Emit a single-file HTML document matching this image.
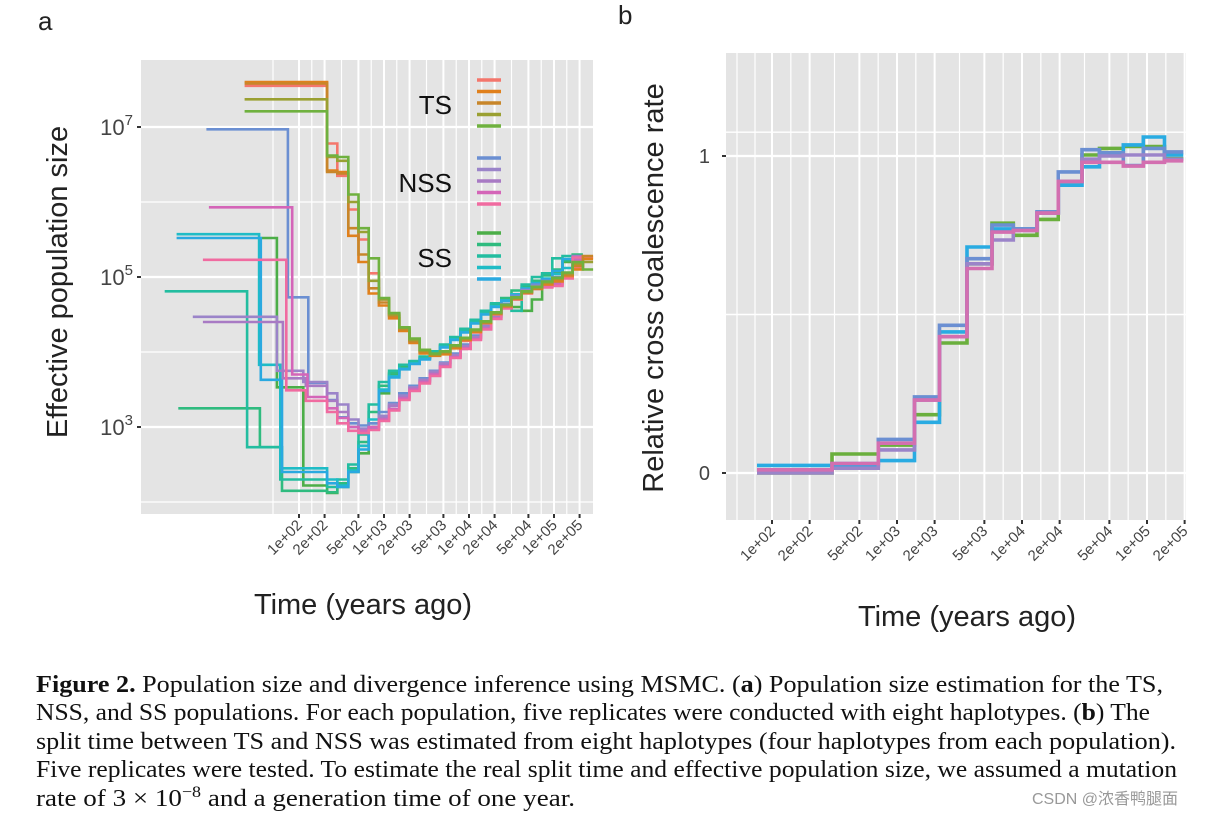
<!DOCTYPE html>
<html><head><meta charset="utf-8">
<style>
html,body{margin:0;padding:0;background:#fff;}
svg{display:block;}
.sans{font-family:"Liberation Sans",Arial,sans-serif;}
.serif{font-family:"Liberation Serif","Times New Roman",serif;}
</style></head>
<body>
<svg id="fig" width="1208" height="817" viewBox="0 0 1208 817" xmlns="http://www.w3.org/2000/svg">
  <rect x="0" y="0" width="1208" height="817" fill="#fff"/>
  <text class="sans" x="38" y="30" font-size="26" fill="#222">a</text>
  <text class="sans" x="618" y="24" font-size="26" fill="#222">b</text>
  <g id="panelA"></g>
  <g id="panelB"></g>
  <text class="sans" transform="translate(67,282) rotate(-90)" text-anchor="middle" font-size="29" fill="#222">Effective population size</text>
  <text class="sans" x="363" y="614" text-anchor="middle" font-size="29" fill="#222">Time (years ago)</text>
  <text class="sans" transform="translate(663,288) rotate(-90)" text-anchor="middle" font-size="29" fill="#222">Relative cross coalescence rate</text>
  <text class="sans" x="967" y="626" text-anchor="middle" font-size="29" fill="#222">Time (years ago)</text>
  <g class="serif" font-size="24" fill="#111">
    <text x="36" y="692" textLength="1127" lengthAdjust="spacingAndGlyphs"><tspan font-weight="bold">Figure 2.</tspan>  Population size and divergence inference using MSMC. (<tspan font-weight="bold">a</tspan>) Population size estimation for the TS,</text>
    <text x="36" y="720" textLength="1114" lengthAdjust="spacingAndGlyphs">NSS, and SS populations. For each population, five replicates were conducted with eight haplotypes. (<tspan font-weight="bold">b</tspan>) The</text>
    <text x="36" y="749" textLength="1140" lengthAdjust="spacingAndGlyphs">split time between TS and NSS was estimated from eight haplotypes (four haplotypes from each population).</text>
    <text x="36" y="777" textLength="1141" lengthAdjust="spacingAndGlyphs">Five replicates were tested. To estimate the real split time and effective population size, we assumed a mutation</text>
    <text x="36" y="806" textLength="539" lengthAdjust="spacingAndGlyphs">rate of 3 × 10<tspan dy="-9" font-size="16">−8</tspan><tspan dy="9"> and a generation time of one year.</tspan></text>
  </g>
  <text x="1032" y="804" font-size="16" fill="#999" style="font-family:'Liberation Sans','Noto Sans CJK SC',sans-serif">CSDN @浓香鸭腿面</text>
</svg>
<script>
const NS = "http://www.w3.org/2000/svg";
// ---------- Panel A data (log10 time, log10 Ne) ----------
const aTickLabels = ["1e+02","2e+02","5e+02","1e+03","2e+03","5e+03","1e+04","2e+04","5e+04","1e+05","2e+05"];
const aTickValues = [100,200,500,1000,2000,5000,10000,20000,50000,100000,200000];
const aYTicks = [3,5,7];
const lateGrid = [2.33,2.45,2.58,2.70,2.82,2.94,3.06,3.18,3.30,3.42,3.54,3.66,3.78,3.90,4.02,4.14,4.26,4.38,4.50,4.62,4.74,4.86,4.98,5.10,5.22,5.34,5.46];
const tsColors = ["#f4766c","#e0801c","#c8862a","#9aa032","#6fb13f"];
const tsStart = [7.55,7.60,7.58,7.37,7.21];
const tsLate = [
 [6.78,6.35,5.90,5.50,5.05,4.70,4.50,4.30,4.15,4.00,3.96,3.98,4.06,4.15,4.26,4.38,4.50,4.60,4.70,4.78,4.86,4.90,4.96,5.00,5.12,5.26],
 [6.42,6.40,5.55,5.20,4.78,4.62,4.45,4.28,4.12,3.98,3.95,3.97,4.05,4.16,4.27,4.40,4.52,4.62,4.72,4.80,4.85,4.90,4.94,5.02,5.10,5.24],
 [6.40,6.38,5.65,5.30,4.85,4.66,4.48,4.30,4.14,4.00,3.96,3.99,4.07,4.17,4.28,4.39,4.51,4.61,4.71,4.79,4.84,4.92,4.97,5.03,5.15,5.28],
 [6.60,6.55,6.00,5.60,4.95,4.70,4.50,4.32,4.16,4.02,3.97,4.00,4.08,4.18,4.29,4.40,4.52,4.62,4.72,4.80,4.86,4.93,4.98,5.05,5.18,5.20],
 [6.62,6.60,6.10,5.65,5.25,4.72,4.52,4.33,4.18,4.03,3.98,4.01,4.09,4.19,4.30,4.41,4.53,4.63,4.73,4.81,4.87,4.94,4.99,5.06,5.20,5.10]
];
const nssColors = ["#6b8fd2","#9b84c9","#a87ac4","#d465b8","#f06ba0"];
const nssStartT = [0.91,0.75,0.87,0.94,0.87];
const nssStartNe = [6.97,4.47,4.40,5.93,5.23];
const nssDropT = [1.87,1.74,1.81,1.92,1.85];
const nssMidT = [2.11,2.05,2.08,2.10,2.08];
const nssMidNe = [4.73,3.75,3.65,3.70,3.49];
const nssLate = [
 [3.59,3.36,3.13,3.05,3.02,3.05,3.20,3.32,3.45,3.55,3.65,3.75,3.86,3.98,4.10,4.22,4.35,4.50,4.64,4.75,4.83,4.90,4.95,5.00,5.05,5.20],
 [3.60,3.45,3.30,3.10,2.98,3.00,3.15,3.30,3.42,3.53,3.63,3.74,3.85,3.96,4.08,4.20,4.34,4.48,4.62,4.73,4.82,4.88,4.90,4.95,5.04,5.25],
 [3.55,3.35,3.20,3.00,2.92,2.97,3.12,3.28,3.40,3.52,3.62,3.72,3.83,3.95,4.07,4.19,4.33,4.47,4.60,4.72,4.81,4.86,4.88,4.92,5.00,5.28],
 [3.40,3.25,3.12,3.00,2.95,3.00,3.10,3.24,3.38,3.50,3.60,3.70,3.81,3.93,4.05,4.17,4.31,4.45,4.59,4.71,4.80,4.85,4.87,4.90,5.00,5.22],
 [3.35,3.20,3.05,2.95,2.92,2.96,3.08,3.22,3.36,3.48,3.58,3.68,3.80,3.92,4.04,4.16,4.30,4.44,4.58,4.70,4.79,4.84,4.86,4.88,4.98,5.26]
];
const ssColors = ["#4cae48","#2fbb7f","#23bda0","#1fbcc6","#2aa9e0"];
const ssStartT = [1.56,0.58,0.42,0.56,0.56];
const ssStartNe = [5.52,3.25,4.81,5.57,5.52];
const ssDropT = [1.74,1.54,1.39,1.53,1.55];
const ssMidT = [2.05,1.80,1.78,1.78,1.80];
const ssMidNe = [3.53,2.73,2.73,3.83,3.63];
const ssLate = [
 [2.22,2.12,2.20,2.40,2.65,3.00,3.45,3.70,3.80,3.86,3.92,3.99,4.08,4.18,4.28,4.40,4.52,4.62,4.70,4.60,4.55,4.70,4.90,5.05,5.20,5.15],
 [2.15,2.13,2.25,2.45,2.80,3.20,3.55,3.72,3.82,3.87,3.93,4.00,4.09,4.19,4.30,4.42,4.54,4.64,4.72,4.82,4.88,4.95,5.02,5.10,5.22,5.30],
 [2.30,2.20,2.30,2.50,2.90,3.30,3.60,3.75,3.83,3.88,3.94,4.01,4.10,4.20,4.31,4.43,4.55,4.65,4.60,4.55,4.90,5.00,5.05,5.25,5.28,5.20],
 [2.45,2.30,2.22,2.42,2.75,3.10,3.50,3.68,3.78,3.85,3.91,3.98,4.07,4.17,4.27,4.39,4.51,4.61,4.69,4.77,4.85,4.92,4.98,5.04,5.12,5.25],
 [2.40,2.25,2.20,2.40,2.70,3.05,3.48,3.66,3.77,3.84,3.90,3.97,4.06,4.16,4.26,4.38,4.50,4.60,4.68,4.76,4.84,4.91,4.97,5.08,5.24,5.27]
];
const legendGroups = ["TS","NSS","SS"];

// ---------- Panel B data ----------
const bTickLabels = aTickLabels;
const bTickValues = aTickValues;
const bYTicks = [0,1];
const bBreaks = [1.88,2.48,2.85,3.14,3.34,3.56,3.76,3.93,4.12,4.29,4.48,4.62,4.81,4.97,5.14,5.29];
const bColors = ["#6aaf3d","#29abe2","#6b8fd2","#9b84c9","#d36fb0"];
const bValues = [
 [0.00,0.060,0.088,0.184,0.410,0.660,0.788,0.750,0.800,0.920,1.003,1.024,1.030,1.030,0.992],
 [0.024,0.024,0.039,0.160,0.445,0.713,0.770,0.770,0.820,0.908,0.966,1.010,1.035,1.060,1.003],
 [0.010,0.030,0.106,0.240,0.466,0.676,0.782,0.770,0.824,0.950,1.020,1.010,0.970,1.024,1.013],
 [0.000,0.015,0.073,0.230,0.430,0.660,0.735,0.765,0.820,0.920,0.990,1.000,1.003,1.003,0.990],
 [0.010,0.030,0.094,0.230,0.430,0.645,0.760,0.765,0.820,0.920,0.980,0.980,0.968,0.980,0.985]
];

// ---------- helpers ----------
function mk(tag, attrs, parent){const e=document.createElementNS(NS,tag);for(const k in attrs)e.setAttribute(k,attrs[k]);parent.appendChild(e);return e;}
function stepPath(ts, vs, xf, yf){
  let d="M"+xf(ts[0]).toFixed(1)+","+yf(vs[0]).toFixed(1);
  for(let i=0;i<vs.length;i++){
    d+=" H"+xf(ts[i+1]).toFixed(1);
    if(i+1<vs.length) d+=" V"+yf(vs[i+1]).toFixed(1);
  }
  return d;
}

// ---------- Panel A ----------
const A = {x0:141,x1:593,y0:60,y1:514};
const ax = lt => 299 + (lt-2)*85;
const ay = ln => 127 - (ln-7)*75;
const gA = document.getElementById("panelA");
const bgA = mk("rect",{x:A.x0,y:A.y0,width:A.x1-A.x0,height:A.y1-A.y0,fill:"#e4e4e4"},gA);


const aTickX = aTickValues.map(v=>ax(Math.log10(v)));
const vgx = [273].concat(aTickX);
for(let i=0;i<aTickX.length-1;i++) vgx.push((aTickX[i]+aTickX[i+1])/2);
vgx.forEach(x=>{
  const l=mk("line",{x1:x,x2:x,y1:A.y0,y2:A.y1,stroke:"#fff","stroke-width":aTickX.includes(x)?2:1.2},gA);
  
  
});
[2,3,4,5,6,7].forEach(v=>{
  const l=mk("line",{x1:A.x0,x2:A.x1,y1:ay(v),y2:ay(v),stroke:"#fff","stroke-width":aYTicks.includes(v)?2.2:1.2},gA);
  
  
});
aYTicks.forEach(v=>{
  const t=mk("line",{x1:A.x0-4,x2:A.x0,y1:ay(v),y2:ay(v),stroke:"#333","stroke-width":2},gA);
  
  
  const tx=mk("text",{x:A.x0-8,y:ay(v)+8,"text-anchor":"end","font-size":22,fill:"#444",class:"sans"},gA);
  
  
  tx.appendChild(document.createTextNode("10"));
  const sup=mk("tspan",{dy:-10,"font-size":15},tx); sup.textContent=String(v);
});
aTickX.forEach((x,i)=>{
  const t=mk("line",{x1:x,x2:x,y1:A.y1,y2:A.y1+4,stroke:"#333","stroke-width":2},gA);
  
  
  const tx=mk("text",{transform:`translate(${x+4},${A.y1+12}) rotate(-45)`,"text-anchor":"end","font-size":15,fill:"#444",class:"sans"},gA);
  
  
  tx.textContent=aTickLabels[i];
});
function addA(ts,vs,color,name){
  const p=mk("path",{d:stepPath(ts,vs,ax,ay),fill:"none",stroke:color,"stroke-width":2.6,"stroke-linejoin":"miter"},gA);
  
  
}
ssColors.forEach((c,i)=>{
  addA([ssStartT[i],ssDropT[i],ssMidT[i]].concat(lateGrid),[ssStartNe[i],ssMidNe[i]].concat(ssLate[i]),c,'ss-replicate-line');
});
nssColors.forEach((c,i)=>{
  addA([nssStartT[i],nssDropT[i],nssMidT[i]].concat(lateGrid),[nssStartNe[i],nssMidNe[i]].concat(nssLate[i]),c,'nss-replicate-line');
});
tsColors.forEach((c,i)=>{
  addA([1.36].concat(lateGrid),[tsStart[i]].concat(tsLate[i]),c,'ts-replicate-line');
});
const legendColors=[tsColors,nssColors,ssColors];
const legendY=[103,181,256];
legendGroups.forEach((g,gi)=>{
  const lt=mk("text",{x:452,y:legendY[gi]+11,"text-anchor":"end","font-size":26,fill:"#111",class:"sans"},gA);
  
  
  lt.textContent=g;
  legendColors[gi].forEach((c,k)=>{
    const y=legendY[gi]-23+k*11.5;
    const l=mk("line",{x1:477,x2:501,y1:y,y2:y,stroke:c,"stroke-width":3.5},gA);
    
    
  });
});

// ---------- Panel B ----------
const B = {x0:726,x1:1186,y0:53,y1:520};
const bx = lt => 772 + (lt-2)*125;
const by = v => 473 - v*317;
const gB = document.getElementById("panelB");
const bgB = mk("rect",{x:B.x0,y:B.y0,width:B.x1-B.x0,height:B.y1-B.y0,fill:"#e4e4e4"},gB);


const bTickX = bTickValues.map(v=>bx(Math.log10(v)));
const bgx = [737,755].concat(bTickX);
for(let i=0;i<bTickX.length-1;i++) bgx.push((bTickX[i]+bTickX[i+1])/2);
bgx.forEach(x=>{
  const l=mk("line",{x1:x,x2:x,y1:B.y0,y2:B.y1,stroke:"#fff","stroke-width":bTickX.includes(x)?2:1.2},gB);
  
  
});
[0,0.5,1,1.075].forEach(v=>{
  const l=mk("line",{x1:B.x0,x2:B.x1,y1:by(v),y2:by(v),stroke:"#fff","stroke-width":bYTicks.includes(v)?2.2:1.4},gB);
  
  
});
bYTicks.forEach(v=>{
  const t=mk("line",{x1:B.x0-4,x2:B.x0,y1:by(v),y2:by(v),stroke:"#333","stroke-width":2},gB);
  
  
  const tx=mk("text",{x:B.x0-16,y:by(v)+7,"text-anchor":"end","font-size":20,fill:"#444",class:"sans"},gB);
  
  
  tx.textContent=String(v);
});
bTickX.forEach((x,i)=>{
  const t=mk("line",{x1:x,x2:x,y1:B.y1,y2:B.y1+4,stroke:"#333","stroke-width":2},gB);
  
  
  const tx=mk("text",{transform:`translate(${x+4},${B.y1+12}) rotate(-45)`,"text-anchor":"end","font-size":15,fill:"#444",class:"sans"},gB);
  
  
  tx.textContent=bTickLabels[i];
});
bColors.forEach((c,i)=>{
  const p=mk("path",{d:stepPath(bBreaks,bValues[i],bx,by),fill:"none",stroke:c,"stroke-width":3.6},gB);
  
  
});
</script>
</body></html>
